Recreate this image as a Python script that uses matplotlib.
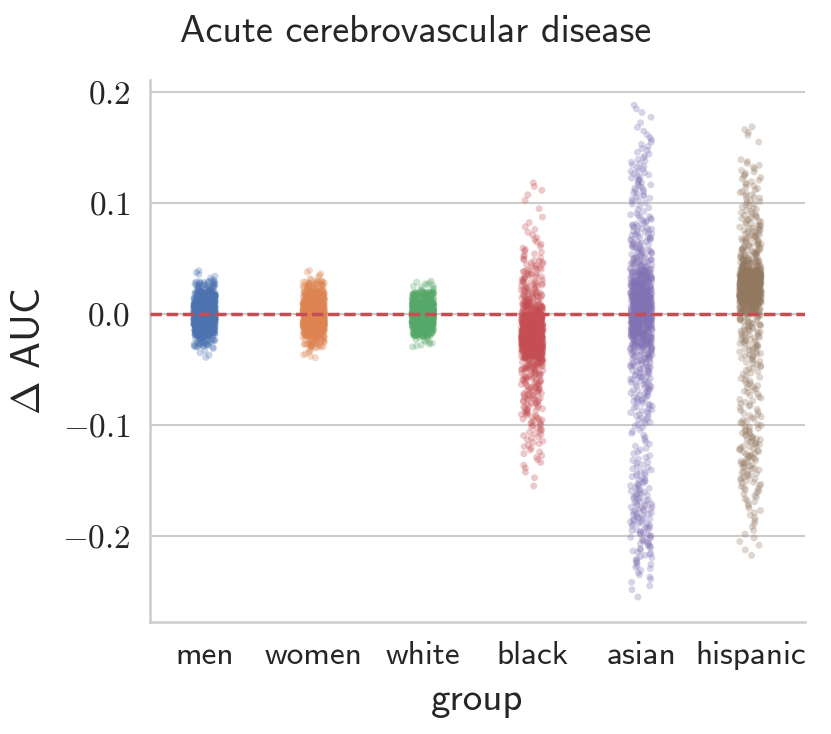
import numpy as np
import pandas as pd
import matplotlib
matplotlib.use("Agg")
import matplotlib.pyplot as plt
import seaborn as sns

# groups on the x axis
groups = ["men", "women", "white", "black", "asian", "hispanic"]

# histogram of delta AUC per group:
# lower edge of the first bin, then point counts per 0.01 bin (bottom -> top)
bin_width = 0.01
men_start = -0.04
men_counts = [5, 40, 150, 300, 300, 150, 45, 6]
women_start = -0.04
women_counts = [8, 45, 150, 290, 300, 150, 50, 7]
white_start = -0.03
white_counts = [12, 110, 370, 380, 115, 13]
black_start = -0.16
black_counts = [1, 2, 4, 6, 8, 10, 14, 16, 20, 22, 25, 40, 110, 190, 200, 150,
                60, 30, 22, 18, 14, 8, 5, 4, 2, 1, 2, 3]
asian_start = -0.26
asian_counts = [1, 3, 5, 8, 10, 12, 14, 16, 16, 14, 12, 10, 8, 6, 5, 6, 10,
                12, 14, 16, 18, 22, 30, 55, 80, 90, 90, 85, 75, 55, 28, 20,
                18, 16, 12, 6, 10, 10, 10, 8, 6, 5, 3, 2, 3]
hispanic_start = -0.22
hispanic_counts = [2, 3, 3, 4, 5, 7, 10, 12, 14, 14, 14, 12, 10, 8, 8, 10, 8,
                   10, 14, 16, 18, 20, 60, 170, 200, 160, 45, 25, 20, 18, 14,
                   10, 10, 8, 8, 6, 0, 1, 4]

title = "Acute cerebrovascular disease"
y_ticks = [-0.2, -0.1, 0.0, 0.1, 0.2]


def expand(start, counts):
    # spread the points of each bin evenly inside the bin
    vals = []
    for k, n in enumerate(counts):
        lo = start + k * bin_width
        vals += [lo + bin_width * (i + 0.5) / n for i in range(n)]
    return vals


def main():
    data = {
        "men": expand(men_start, men_counts),
        "women": expand(women_start, women_counts),
        "white": expand(white_start, white_counts),
        "black": expand(black_start, black_counts),
        "asian": expand(asian_start, asian_counts),
        "hispanic": expand(hispanic_start, hispanic_counts),
    }
    rows = [(g, v) for g in groups for v in data[g]]
    df = pd.DataFrame(rows, columns=["group", "delta"])

    sns.set_theme(style="whitegrid", palette="deep")
    plt.rcParams["mathtext.fontset"] = "cm"
    plt.rcParams["font.family"] = ["cmss10", "DejaVu Sans"]
    plt.rcParams["axes.unicode_minus"] = False

    np.random.seed(3)
    fig = plt.figure(figsize=(8.31, 7.34), dpi=100)
    ax = fig.add_axes([0.1805, 0.1526, 0.7882, 0.7384])

    sns.stripplot(data=df, x="group", y="delta", hue="group", order=groups,
                  palette="deep", size=5, alpha=0.3, linewidth=0,
                  jitter=True, legend=False, ax=ax)
    ax.axhline(0, color="#C44E52", linestyle=(0, (3.3, 1.35)),
               linewidth=2.5, zorder=5)

    ax.set_ylim(-0.2775, 0.211)
    ax.set_xlim(-0.5, 5.5)
    ax.set_yticks(y_ticks)
    ax.set_yticklabels([f"${v:.1f}$" for v in y_ticks], fontsize=24)
    ax.set_xticks(range(len(groups)))
    ax.set_xticklabels(groups, fontsize=24)
    ax.tick_params(axis="y", length=0, pad=14)
    ax.tick_params(axis="x", length=0, pad=14)
    ax.grid(axis="x", visible=False)
    ax.grid(axis="y", color="#cccccc", linewidth=1.5)

    ax.set_xlabel("group", fontsize=28, labelpad=9)
    ax.set_ylabel(r"$\Delta$ AUC", fontsize=29)
    ax.yaxis.set_label_coords(-0.155, 0.5)
    fig.suptitle(title, x=0.5, y=0.979, va="top", fontsize=27.5)

    sns.despine(ax=ax)
    for s in ["left", "bottom"]:
        ax.spines[s].set_color("#cccccc")
        ax.spines[s].set_linewidth(1.8)

    fig.savefig("out.png", dpi=100)


if __name__ == "__main__":
    main()
